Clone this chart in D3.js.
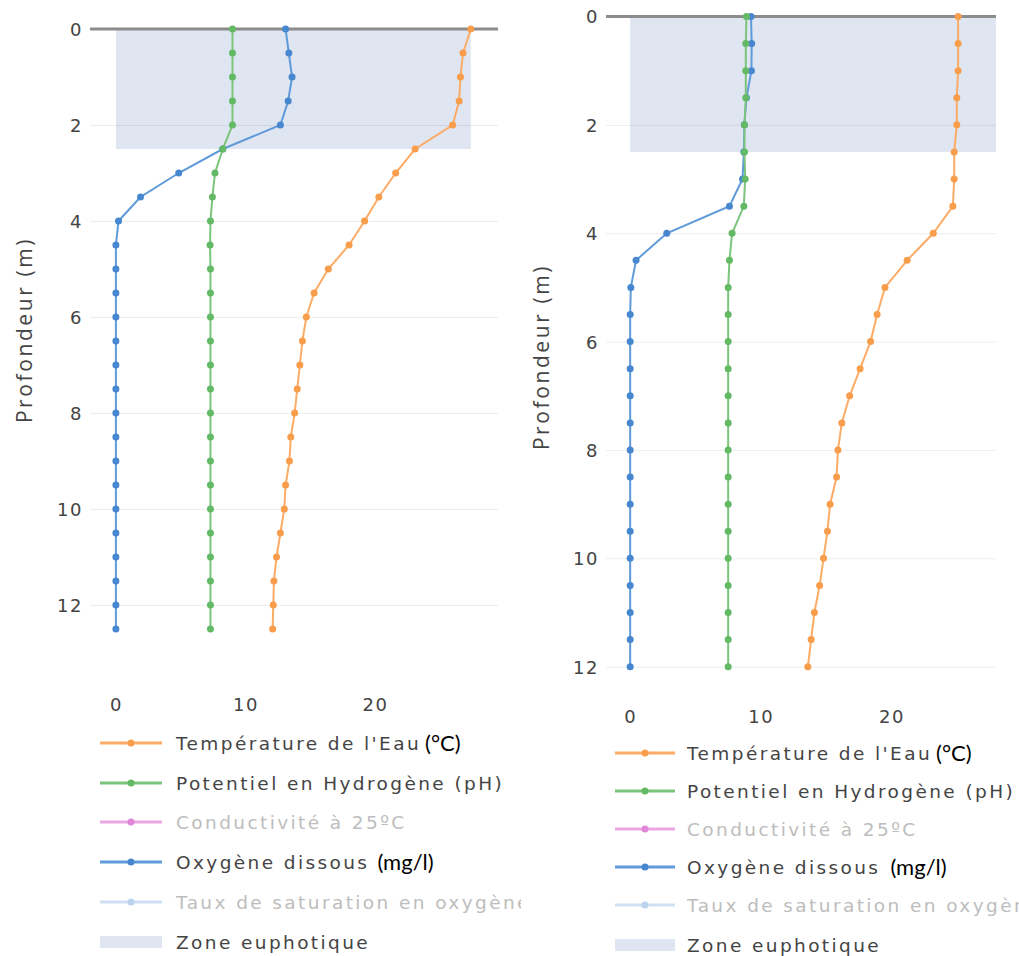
<!DOCTYPE html>
<html>
<head>
<meta charset="utf-8">
<script src="https://cdn.jsdelivr.net/npm/d3@7"></script>
<style>
body { margin: 0; background: #fff; }
svg text { font-family: "DejaVu Sans", Verdana, sans-serif; }
</style>
</head>
<body>
<div id="chart"></div>
<script>
// 1: DATA
const depthTicks = [0, 2, 4, 6, 8, 10, 12];
const valueTicks = [0, 10, 20];

// left profile, every 0.5 m from 0 to 12.5 m
const depthsLeft = [0, 0.5, 1, 1.5, 2, 2.5, 3, 3.5, 4, 4.5, 5, 5.5, 6, 6.5, 7, 7.5, 8, 8.5, 9, 9.5, 10, 10.5, 11, 11.5, 12, 12.5];
const tempLeft = [27.4, 26.8, 26.6, 26.5, 26.0, 23.1, 21.6, 20.3, 19.2, 18.0, 16.4, 15.3, 14.7, 14.4, 14.2, 14.0, 13.8, 13.5, 13.4, 13.1, 13.0, 12.7, 12.4, 12.2, 12.15, 12.1];
const phLeft = [9.0, 9.0, 9.0, 9.0, 9.0, 8.25, 7.65, 7.45, 7.3, 7.27, 7.3, 7.3, 7.3, 7.3, 7.3, 7.3, 7.3, 7.3, 7.3, 7.3, 7.3, 7.3, 7.3, 7.3, 7.3, 7.3];
const oxyLeft = [13.1, 13.35, 13.6, 13.3, 12.7, 8.25, 4.85, 1.9, 0.2, 0, 0, 0, 0, 0, 0, 0, 0, 0, 0, 0, 0, 0, 0, 0, 0, 0];
const zoneLeft = [0, 27.4]; // x extent of the euphotic band

// right profile, every 0.5 m from 0 to 12 m
const depthsRight = [0, 0.5, 1, 1.5, 2, 2.5, 3, 3.5, 4, 4.5, 5, 5.5, 6, 6.5, 7, 7.5, 8, 8.5, 9, 9.5, 10, 10.5, 11, 11.5, 12];
const tempRight = [25.1, 25.1, 25.1, 25.0, 25.0, 24.8, 24.8, 24.7, 23.2, 21.2, 19.5, 18.9, 18.4, 17.6, 16.8, 16.2, 15.9, 15.8, 15.3, 15.1, 14.8, 14.5, 14.1, 13.85, 13.6];
const phRight = [8.9, 8.85, 8.85, 8.85, 8.75, 8.75, 8.8, 8.7, 7.8, 7.6, 7.5, 7.5, 7.5, 7.5, 7.5, 7.5, 7.5, 7.5, 7.5, 7.5, 7.5, 7.5, 7.5, 7.5, 7.5];
const oxyRight = [9.25, 9.3, 9.28, 8.9, 8.74, 8.7, 8.6, 7.6, 2.8, 0.45, 0.05, 0, 0, 0, 0, 0, 0, 0, 0, 0, 0, 0, 0, 0, 0];
const zoneRight = [0, 28];

const zoneDepth = [0, 2.5];

const legendNames = ["Température de l'Eau", "Potentiel en Hydrogène (pH)", "Conductivité à 25ºC", "Oxygène dissous", "Taux de saturation en oxygène", "Zone euphotique"];
const legendActive = [true, true, false, true, false, true];
const legendUnits = ["(°C)", null, null, "(mg/l)", null, null];

const colors = {
    temp:  { line: "#fcac66", dot: "#f89d4c" },
    ph:    { line: "#7cc47c", dot: "#64b964" },
    cond:  { line: "#eba6e4", dot: "#df86d8" },
    oxy:   { line: "#5f9ad9", dot: "#4787d0" },
    sat:   { line: "#cfe0f3", dot: "#bcd3ee" },
    zone:  "#dfe6f1"
};
const legendColors = [colors.temp, colors.ph, colors.cond, colors.oxy, colors.sat];

const svg = d3.select("#chart")
    .append("svg")
    .attr("width", 1019)
    .attr("height", 956);

svg.append("defs").append("clipPath")
    .attr("id", "legendClipLeft")
    .append("rect")
    .attr("x", 0).attr("y", 700).attr("width", 521).attr("height", 256);

// 2: ONE PROFILE PANEL
function drawProfile(cfg) {
    const g = svg.append("g");

    const x = d3.scaleLinear().domain(cfg.xDomain).range(cfg.xRange);
    const y = d3.scaleLinear().domain(cfg.yDomain).range(cfg.yRange);

    // euphotic zone band
    g.append("rect")
        .attr("x", x(cfg.zone[0]))
        .attr("y", y(zoneDepth[0]))
        .attr("width", x(cfg.zone[1]) - x(cfg.zone[0]))
        .attr("height", y(zoneDepth[1]) - y(zoneDepth[0]))
        .attr("fill", colors.zone);

    // horizontal grid lines
    g.append("g")
        .attr("transform", `translate(${cfg.xRange[0]},0)`)
        .call(d3.axisLeft(y).tickValues(depthTicks.filter(d => d > 0))
            .tickSize(-(cfg.xRange[1] - cfg.xRange[0])).tickFormat(""))
        .call(a => a.select(".domain").remove())
        .call(a => a.selectAll("line").attr("stroke", "#000").attr("stroke-opacity", 0.07));

    // zero line
    g.append("line")
        .attr("x1", cfg.xRange[0]).attr("x2", cfg.xRange[1])
        .attr("y1", y(0)).attr("y2", y(0))
        .attr("stroke", "#8c8c8c")
        .attr("stroke-width", 3);

    // y tick labels
    g.append("g")
        .attr("transform", `translate(${cfg.yLabelX},0)`)
        .call(d3.axisLeft(y).tickValues(depthTicks).tickSize(0).tickPadding(0))
        .call(a => a.select(".domain").remove())
        .call(a => a.selectAll("text")
            .attr("fill", "#444")
            .style("font-size", "18px")
            .style("letter-spacing", "1.5px")
            .attr("dy", "0.36em"));

    // x tick labels
    g.append("g")
        .attr("transform", `translate(0,${cfg.xLabelY})`)
        .call(d3.axisBottom(x).tickValues(valueTicks).tickSize(0).tickPadding(0))
        .call(a => a.select(".domain").remove())
        .call(a => a.selectAll("text")
            .attr("fill", "#444")
            .style("font-size", "18px")
            .style("letter-spacing", "1.5px")
            .attr("dy", "0.36em"));

    // y title
    g.append("text")
        .attr("transform", `translate(${cfg.titleX},${cfg.titleY}) rotate(-90)`)
        .attr("text-anchor", "middle")
        .attr("dy", "0.36em")
        .attr("fill", "#444")
        .style("font-family", "'Open Sans', sans-serif")
        .style("font-size", "21px")
        .style("letter-spacing", "2.6px")
        .text("Profondeur (m)");

    // series
    const series = [
        { values: cfg.oxy, c: colors.oxy },
        { values: cfg.ph, c: colors.ph },
        { values: cfg.temp, c: colors.temp }
    ];
    const line = d3.line().x(d => x(d[0])).y(d => y(d[1]));

    series.forEach(s => {
        const pts = s.values.map((v, i) => [v, cfg.depths[i]]);
        g.append("path")
            .datum(pts)
            .attr("fill", "none")
            .attr("stroke", s.c.line)
            .attr("stroke-width", 2)
            .attr("d", line);
        g.append("g").selectAll("circle")
            .data(pts)
            .join("circle")
            .attr("cx", d => x(d[0]))
            .attr("cy", d => y(d[1]))
            .attr("r", 3.5)
            .attr("fill", s.c.dot);
    });

    // legend
    const lg = g.append("g");
    if (cfg.clip) lg.attr("clip-path", `url(#${cfg.clip})`);
    legendNames.forEach((name, i) => {
        const ly = cfg.legendRows[i];
        if (i < legendColors.length) {
            lg.append("line")
                .attr("x1", cfg.legendX[0]).attr("x2", cfg.legendX[1])
                .attr("y1", ly).attr("y2", ly)
                .attr("stroke", legendColors[i].line)
                .attr("stroke-width", 3);
            lg.append("circle")
                .attr("cx", (cfg.legendX[0] + cfg.legendX[1]) / 2)
                .attr("cy", ly)
                .attr("r", 3.5)
                .attr("fill", legendColors[i].dot);
        } else {
            lg.append("rect")
                .attr("x", cfg.legendX[0]).attr("y", ly - 6)
                .attr("width", cfg.legendX[1] - cfg.legendX[0]).attr("height", 12)
                .attr("fill", colors.zone);
        }
        const t = lg.append("text")
            .attr("x", cfg.legendTextX)
            .attr("y", ly)
            .attr("dy", "0.36em")
            .attr("fill", legendActive[i] ? "#444" : "#bdbdbd")
            .style("font-size", "18.5px")
            .style("letter-spacing", "2.4px")
            .text(name);
        if (legendUnits[i]) {
            const w = t.node().getComputedTextLength();
            lg.append("text")
                .attr("x", cfg.legendTextX + w + cfg.unitGap[i])
                .attr("y", ly)
                .attr("dy", "0.36em")
                .attr("fill", "#000")
                .style("font-family", "Lato, 'Open Sans', sans-serif")
                .style("font-size", "22px")
                .text(legendUnits[i]);
        }
    });
}

// 3: DRAW BOTH PANELS
drawProfile({
    depths: depthsLeft, temp: tempLeft, ph: phLeft, oxy: oxyLeft, zone: zoneLeft,
    xDomain: [-2.0, 29.5], xRange: [90, 498],
    yDomain: [0, 12.5], yRange: [29, 629],
    yLabelX: 83, xLabelY: 705,
    titleX: 24, titleY: 330,
    legendX: [100, 162], legendTextX: 176,
    legendRows: [743, 783, 822, 862, 902, 942],
    unitGap: [4, 0, 0, 8, 0, 0],
    clip: "legendClipLeft"
});

drawProfile({
    depths: depthsRight, temp: tempRight, ph: phRight, oxy: oxyRight, zone: zoneRight,
    xDomain: [-1.85, 28], xRange: [606, 996],
    yDomain: [0, 12], yRange: [16.5, 666.7],
    yLabelX: 599, xLabelY: 717,
    titleX: 541, titleY: 357,
    legendX: [615, 675], legendTextX: 687,
    legendRows: [753, 791, 829, 867, 905, 945],
    unitGap: [4, 0, 0, 10, 0, 0],
    clip: null
});
</script>
</body>
</html>
